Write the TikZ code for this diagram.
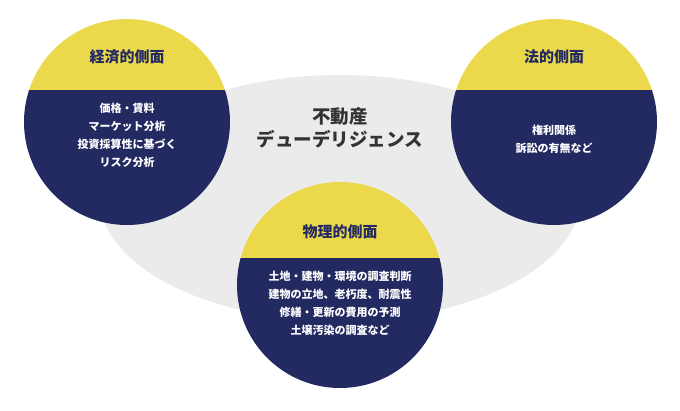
\documentclass[tikz,border=0pt]{standalone}
\usepackage{fontspec}
\newfontfamily\cjk{Noto Sans CJK JP}
\usepackage{tikz}

\definecolor{hdyellow}{HTML}{EBD94B}
\definecolor{navy}{HTML}{232A62}
\definecolor{ovalgray}{HTML}{EBEBEB}
\definecolor{titlegray}{HTML}{333333}

\tikzset{
    head/.style={font=\cjk\bfseries\fontsize{15}{17}\selectfont, text=navy},
    body/.style={font=\cjk\bfseries\fontsize{11}{18}\selectfont, text=white, align=center}
}

% aspect circle: centre, split height
\newcommand{\aspect}[3]{%
    \begin{scope}
        \clip #1 circle (103);
        \fill[hdyellow] ($#1+(-110,-110)$) rectangle ($#1+(110,#2)$);
        \fill[navy] ($#1+(-110,#2)$) rectangle ($#1+(110,110)$);
    \end{scope}
}

\usetikzlibrary{calc}

\begin{document}
\begin{tikzpicture}[x=1pt,y=-1pt]

    % Set bounding box
    \useasboundingbox (0,0) rectangle (680,410);

    % Draw grey oval
    \fill[ovalgray] (340,198) ellipse (240 and 123);

    % Draw title
    \node[font=\cjk\bfseries\fontsize{18.5}{23}\selectfont, text=titlegray, align=center] (title) at (340,128) {不動産\\デューデリジェンス};

    % Draw the three circles
    \aspect{(127,122)}{-32}{}
    \aspect{(554,122)}{-32}{}
    \aspect{(340,285)}{-27}{}

    % Draw headers
    \node[head] (econhead) at (127,57) {経済的側面};
    \node[head] (lawhead) at (554,57) {法的側面};
    \node[head] (physhead) at (340,232) {物理的側面};

    % Draw contents
    \node[body] (econbody) at (127,135) {価格・賃料\\マーケット分析\\投資採算性に基づく\\リスク分析};
    \node[body] (lawbody) at (554,139) {権利関係\\訴訟の有無など};
    \node[body] (physbody) at (340,303) {土地・建物・環境の調査判断\\建物の立地、老朽度、耐震性\\修繕・更新の費用の予測\\土壌汚染の調査など};
\end{tikzpicture}
\end{document}
